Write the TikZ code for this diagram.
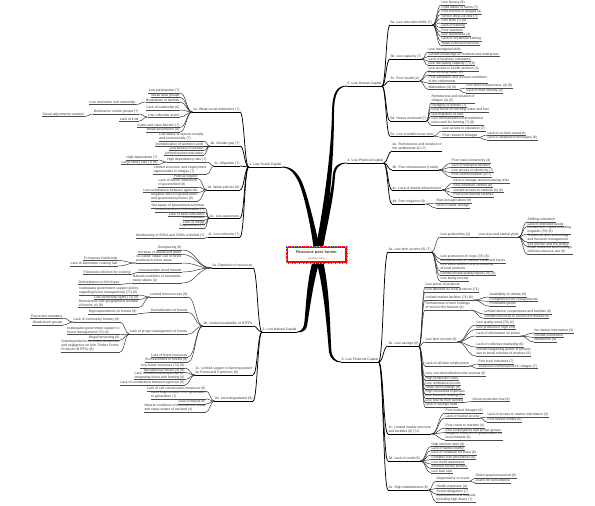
\documentclass[tikz,border=0pt]{standalone}
\usepackage{fontspec}
\setmainfont{Liberation Sans}
\usetikzlibrary{calc}
\tikzset{
 txt/.style={font=\fontsize{3.4}{3.8}\selectfont, text=black!80, inner xsep=0.4pt, inner ysep=0.5pt, align=left},
 lf/.style={draw=black!70, line width=0.45pt},
 l2/.style={draw=black, line width=0.6pt},
 l1/.style={draw=black, line width=0.8pt},
 k3/.style={draw=black!85, line width=0.45pt},
 k2/.style={draw=black, line width=0.6pt},
 k1/.style={draw=black, line width=0.75pt},
 branch/.style={fill=black},
}
\newcommand\mmR[5][lf]{\node[txt,anchor=south west] (#2) at (#3,#4) {#5}; \draw[#1] (#2.south west) -- (#2.south east);}
\newcommand\mmL[5][lf]{\node[txt,anchor=south east] (#2) at (#3,#4) {#5}; \draw[#1] (#2.south west) -- (#2.south east);}
\newcommand\cR[3][k3]{\draw[#1] let \p1=(#2.south east), \p2=(#3.south west) in (\p1) .. controls ({0.5*\x1+0.5*\x2},\y1) and ({0.5*\x1+0.5*\x2},\y2) .. (\p2);}
\newcommand\cL[3][k3]{\draw[#1] let \p1=(#2.south west), \p2=(#3.south east) in (\p1) .. controls ({0.5*\x1+0.5*\x2},\y1) and ({0.5*\x1+0.5*\x2},\y2) .. (\p2);}
\begin{document}
\begin{tikzpicture}[x=1pt,y=-1pt]
\useasboundingbox (0,0) rectangle (595,506);
% ---------------- main tapered branches
\fill[branch] (314.5,255) .. controls (322,215) and (331,160) .. (332,112) .. controls (332.3,92) and (337,85.6) .. (347,85.6) -- (347,86.4) .. controls (338.5,86.6) and (334.3,93) .. (334,112) .. controls (334,160) and (329,215) .. (321.5,255) -- cycle;
\fill[branch] (314.5,255) .. controls (323,220) and (331.5,195) .. (332.5,178) .. controls (333,167) and (337,162.6) .. (347,162.6) -- (347,163.4) .. controls (339,163.5) and (335.2,168) .. (334.8,178) .. controls (334,195) and (328,222) .. (321.5,255) -- cycle;
\fill[branch] (321.5,255) .. controls (314,222) and (307,193) .. (301.5,181) .. controls (296,170) and (290,166.6) .. (282,166.6) -- (282,167.4) .. controls (289,167.6) and (294,172) .. (299,183) .. controls (304,195) and (311,225) .. (314.5,255) -- cycle;
\fill[branch] (321.5,255) .. controls (313,280) and (309,315) .. (307,326) .. controls (306,331) and (302,332.4) .. (297,332.4) -- (297,331.6) .. controls (300.5,331.5) and (303,329) .. (304,325) .. controls (306,312) and (306,280) .. (314.5,255) -- cycle;
\fill[branch] (314.5,255) .. controls (324,285) and (327,330) .. (329,352) .. controls (330,359) and (335,362.4) .. (341,362.4) -- (341,361.6) .. controls (336,361.4) and (332,358) .. (331.3,350) .. controls (330,330) and (330,285) .. (321.5,255) -- cycle;
% ---------------- centre
\node[draw=red, line width=2pt, fill=white, minimum width=59pt, minimum height=15pt, inner sep=0] (c) at (316.5,254.5) {};
\draw[yellow!90!orange, line width=0.9pt, dash pattern=on 0.9pt off 2.7pt] (c.south west) rectangle (c.north east);
\draw[blue!70, line width=0.9pt, dash pattern=on 0.9pt off 2.7pt, dash phase=1.8pt] (c.south west) rectangle (c.north east);
\node[font=\fontsize{3.9}{4.3}\selectfont\bfseries, text=black!75, inner sep=0] (ct) at (316.5,252.5) {Resource poor farmer};
\node[font=\fontsize{2.6}{3}\selectfont, text=black!60, inner sep=0] (cs) at (316.5,258.5) {(problem tree)};
% ================= 5. Human capital
\mmR[l1]{n5}{347}{86}{5. Low Human Capital}
\mmR[l2]{n5a}{390}{25}{5a. Low education/skills (7)}
\mmR{n5a1}{441}{5}{Low literacy (8)}
\mmR{n5a2}{441}{9.5}{Child labour in farms (7)}
\mmR{n5a3}{441}{14}{Few schools in villages (4)}
\mmR{n5a4}{441}{18.5}{School drop-out rate (7)}
\mmR{n5a5}{441}{23}{Low skills (7) (8)}
\mmR{n5a6}{441}{27.5}{Lack of training}
\mmR{n5a7}{441}{32}{Poor teachers}
\mmR{n5a8}{441}{36.5}{Low awareness (4)}
\mmR{n5a9}{441}{41}{Lack of vocational training}
\mmR{n5a10}{441}{45.5}{Weak extension services}
\mmR[l2]{n5b}{390}{59}{5b. Low capacity (7)}
\mmR{n5b1}{428}{52}{Low managerial skills}
\mmR{n5b2}{428}{56.5}{Limited knowledge on markets and enterprises}
\mmR{n5b3}{428}{61}{Lack of business orientation}
\mmR{n5b4}{428}{65.5}{Low risk-taking capacity (7) (8)}
\mmR[l2]{n5c}{390}{81}{5c. Poor health (4)}
\mmR{n5c1}{428}{71}{Low access to health services (4)}
\mmR{n5c2}{428}{75}{Poor drinking water (4)}
\mmR{n5c3}{428}{83}{Poor sanitation and unclean conditions\\ of the settlements}
\mmR{n5c4}{428}{89.5}{Malnutrition (4) (6)}
\mmR{n5c4a}{466}{88}{Low level of awareness (4) (8)}
\mmR{n5c4b}{466}{93}{Lack of food security (6)}
\mmR[l2]{n5d}{390}{121}{5d. Heavy workload (7)}
\mmR{n5d1}{431}{103}{Remoteness and isolation of\\ villages (4) (2)}
\mmR{n5d2}{431}{107.5}{Drudgery of women (7)}
\mmR{n5d3}{431}{112}{Long hours for fetching water and fuel}
\mmR{n5d4}{431}{116.5}{Out-migration of men}
\mmR{n5d5}{431}{125}{Low mechanisation and traditional\\ tools used for farming (7) (8)}
\mmR[l2]{n5e}{390}{136}{5e. Low scientific know-how}
\mmR{n5e1}{442}{131}{Low access to education (7)}
\mmR{n5e2}{442}{137.5}{Poor research linkages}
\mmR{n5e2a}{487}{135}{Lack of on-farm research}
\mmR{n5e2b}{487}{140}{Lack of adapted technologies (8)}
\foreach \k in {n5a,n5b,n5c,n5d,n5e} {\cR[k1]{n5}{\k}}
\foreach \k in {1,...,10} {\cR{n5a}{n5a\k}}
\foreach \k in {1,...,4} {\cR{n5b}{n5b\k}}
\foreach \k in {1,...,4} {\cR{n5c}{n5c\k}}
\foreach \k in {a,b} {\cR{n5c4}{n5c4\k}}
\foreach \k in {1,...,5} {\cR{n5d}{n5d\k}}
\foreach \k in {1,2} {\cR{n5e}{n5e\k}}
\foreach \k in {a,b} {\cR{n5e2}{n5e2\k}}
% ================= 4. Physical capital
\mmR[l1]{n4}{347}{163}{4. Low Physical Capital}
\mmR[l2]{n4a}{392}{151}{4a. Remoteness and isolation of\\ the settlements (4) (7)}
\mmR[l2]{n4b}{392}{170}{4b. Poor infrastructure (roads)}
\mmR{n4b1}{451}{163}{Poor road connectivity (4)}
\mmR{n4b2}{451}{167.5}{Lack of transport facilities}
\mmR{n4b3}{451}{172.5}{Low access to electricity (7)}
\mmR{n4b4}{451}{177}{Poor communication (ICT)}
\mmR[l2]{n4c}{392}{190}{4c. Lack of market infrastructure}
\mmR{n4c1}{453}{183}{Lack of storage and processing units}
\mmR{n4c2}{453}{187.5}{Few collection centres (6)}
\mmR{n4c3}{453}{192.5}{Limited access to markets (4) (6)}
\mmR{n4c4}{453}{197}{Poor post-harvest facilities}
\mmR[l2]{n4d}{392}{204}{4d. Poor irrigation (8)}
\mmR{n4d1}{436}{203}{Rain-fed agriculture (8)}
\mmR{n4d2}{436}{208}{Lack of water storage}
\foreach \k in {n4a,n4b,n4c,n4d} {\cR[k1]{n4}{\k}}
\foreach \k in {1,...,4} {\cR{n4b}{n4b\k}}
\foreach \k in {1,...,4} {\cR{n4c}{n4c\k}}
\foreach \k in {1,2} {\cR{n4d}{n4d\k}}
% ================= 3. Financial capital
\mmR[l1]{n3}{341}{362}{3. Low Financial Capital}
\mmR[l2]{n3a}{388}{252}{3a. Low farm income (6) (7)}
\mmR{n3a1}{440}{237}{Low productivity (4)}
\mmR{n3a1a}{478}{237}{Low crop and animal yield}
\mmR{n3a1a1}{527}{222}{Shifting cultivation}
\mmR{n3a1a2}{527}{226.5}{Lack of improved seeds}
\mmR{n3a1a3}{527}{234}{Limited farm inputs including\\ irrigation (70) (8)}
\mmR{n3a1a4}{527}{242}{Traditional farm technology\\ and livestock management}
\mmR{n3a1a5}{527}{246.5}{Soil erosion and low fertility}
\mmR{n3a1a6}{527}{254}{Small scattered land holdings\\ with low resource use (8)}
\mmR{n3a2}{440}{259}{Low production of crops (74) (6)}
\mmR{n3a3}{440}{263}{Limited access to market, credit and inputs}
\mmR{n3a4}{440}{271}{Low value addition and processing\\ of local products}
\mmR{n3a5}{440}{275.5}{Limited private quality inputs (70) (8)}
\mmR{n3a6}{440}{281}{Low family income}
\mmR[l2]{n3b}{388}{346}{3b. Low savings (6)}
\mmR{n3b1}{425}{287}{Low prices of products}
\mmR{n3b2}{425}{292}{Low demand for local products (71)}
\mmR{n3b3}{425}{300}{Limited market facilities (71) (6)}
\mmR{n3b3a}{489}{297}{Availability of climate (6)}
\mmR{n3b3b}{489}{301.5}{Competition from cheap imports}
\mmR{n3b3c}{489}{306}{Perishable goods}
\mmR{n3b4}{425}{310}{Remoteness of farm holdings\\ of most of the farmers (4)}
\mmR{n3b4a}{484}{314}{Limited farmer cooperatives and facilities (6)}
\mmR{n3b4b}{484}{318.5}{Limited resources to access the market (6)}
\mmR{n3b5}{425}{342}{Low farm income (6)}
\mmR{n3b5a}{476}{325}{Low quality seed (70) (4)}
\mmR{n3b5b}{476}{329.5}{Low production, high cost}
\mmR{n3b5c}{476}{336}{Lack of information on prices}
\mmR{n3b5c1}{534}{333}{No market information (3)}
\mmR{n3b5c2}{534}{337.5}{Limited connection}
\mmR{n3b5c3}{534}{342}{Middlemen (9)}
\mmR{n3b5d}{476}{347}{Lack of collective marketing (6)}
\mmR{n3b5e}{476}{356}{Limited bargaining power of farmers\\ due to small volumes of produce (6)}
\mmR{n3b6}{425}{366}{Lack of off-farm employment}
\mmR{n3b6a}{478}{364}{Few local industries (7)}
\mmR{n3b6b}{478}{368.5}{Seasonal unemployment in villages (7)}
\mmR{n3b7}{425}{376}{Low, non-diversified income sources (6)}
\mmR{n3b8}{425}{380.5}{High production costs}
\mmR{n3b9}{425}{385}{Low remittance income}
\mmR{n3b10}{425}{389.5}{Small land holdings (8)}
\mmR{n3b11}{425}{394}{High household expenses}
\mmR{n3b12}{425}{398}{Low livestock holding (7)}
\mmR{n3b13}{425}{402.5}{Low returns from farming}
\mmR{n3b13a}{472}{401.5}{Gross production low (6)}
\mmR{n3b14}{425}{407}{Lack of savings habit}
\mmR[l2]{n3c}{388}{434}{3c. Limited market structure\\ and facilities (6) (71)}
\mmR{n3c1}{445}{413}{Poor market linkages (6)}
\mmR{n3c2}{445}{418}{Lack of market access}
\mmR{n3c2a}{487}{417}{Lack of access to market information (3)}
\mmR{n3c2b}{487}{422}{Few market outlets (6)}
\mmR{n3c3}{445}{428}{Poor roads to markets (4)}
\mmR{n3c4}{445}{432.5}{Few cooperatives and farmer groups}
\mmR{n3c5}{445}{440}{Negative influence of globalization on\\ local markets (6)}
\mmR[l2]{n3d}{388}{461}{3d. Lack of credit (6)}
\mmR{n3d1}{431}{446.5}{High interest rates (6)}
\mmR{n3d2}{431}{450.5}{Lack of banks nearby}
\mmR{n3d3}{431}{455}{Lack of collateral for loans (6)}
\mmR{n3d4}{431}{459.5}{Complex loan procedures (6)}
\mmR{n3d5}{431}{464}{Low credit awareness}
\mmR{n3d6}{431}{468.5}{Informal money lenders}
\mmR{n3d7}{431}{473}{Low loan size}
\mmR[l2]{n3e}{388}{490}{3e. High indebtedness (6)}
\mmR{n3e1}{436}{481}{Dependency on loans}
\mmR{n3e1a}{475}{478}{Short repayment period (6)}
\mmR{n3e1b}{475}{483}{Loans for consumption}
\mmR{n3e2}{436}{488.5}{Health expenses (4)}
\mmR{n3e3}{436}{494}{Social obligations (7)}
\mmR{n3e4}{436}{502}{Celebrations and festivals\\ including high dowry (7)}
\foreach \k in {n3a,n3b,n3c,n3d,n3e} {\cR[k1]{n3}{\k}}
\foreach \k in {1,...,6} {\cR{n3a}{n3a\k}}
\cR{n3a1}{n3a1a}
\foreach \k in {1,...,6} {\cR{n3a1a}{n3a1a\k}}
\foreach \k in {1,...,14} {\cR{n3b}{n3b\k}}
\foreach \k in {a,b,c} {\cR{n3b3}{n3b3\k}}
\foreach \k in {a,b} {\cR{n3b4}{n3b4\k}}
\foreach \k in {a,b,c,d,e} {\cR{n3b5}{n3b5\k}}
\foreach \k in {1,2,3} {\cR{n3b5c}{n3b5c\k}}
\foreach \k in {a,b} {\cR{n3b6}{n3b6\k}}
\cR{n3b13}{n3b13a}
\foreach \k in {1,...,5} {\cR{n3c}{n3c\k}}
\foreach \k in {a,b} {\cR{n3c2}{n3c2\k}}
\foreach \k in {1,...,7} {\cR{n3d}{n3d\k}}
\foreach \k in {1,...,4} {\cR{n3e}{n3e\k}}
\foreach \k in {a,b} {\cR{n3e1}{n3e1\k}}
% ================= 1. Social capital
\mmL[l1]{n1}{282}{167}{1. Low Social Capital}
\mmL[l2]{n1a}{240}{112}{1a. Weak social institutions (7)}
\mmL{n1a1}{180}{93}{Low participation (7)}
\mmL{n1a2}{180}{97.5}{Weak local groups}
\mmL{n1a3}{180}{102}{Breakdown of families}
\mmL{n1a3a}{136}{104.5}{Low motivation and ownership}
\mmL{n1a4}{180}{110}{Lack of leadership (8)}
\mmL{n1a5}{180}{117}{Low collective action}
\mmL{n1a5a}{139}{114}{Dominance of elite groups (7)}
\mmL{n1a5a1}{84}{116.5}{Social adjustments needed}
\mmL{n1a5b}{139}{121}{Lack of trust}
\mmL{n1a6}{180}{127.5}{Caste and class barriers (7)}
\mmL{n1a7}{180}{132}{Weak governance (8)}
\mmL[l2]{n1b}{240}{146}{1b. Gender gap (7)}
\mmL{n1b1}{204}{141}{Low status of women socially\\ and economically (7)}
\mmL{n1b2}{204}{146}{Domestication of women's work}
\mmL{n1b3}{204}{150.5}{Low literacy of women}
\mmL{n1b4}{204}{155}{Limited women education}
\mmL[l2]{n1c}{240}{166}{1c. Migration (7)}
\mmL{n1c1}{207}{162}{High dependency ratio (7)}
\mmL{n1c1a}{158}{160}{High dependents (7)}
\mmL{n1c1b}{158}{164.5}{Large family size (7) (8)}
\mmL{n1c2}{207}{174}{Limited economic and employment\\ opportunities in villages (7)}
\mmL[l2]{n1d}{240}{190}{1d. Weak policies (8)}
\mmL{n1d1}{198}{178.5}{Political neglect}
\mmL{n1d2}{198}{187}{Lack of farmer institutions\\ of government (8)}
\mmL{n1d3}{198}{192.5}{Low coordination between agencies}
\mmL{n1d4}{198}{201}{Negative effect of globalization\\ and government policies (6)}
\mmL[l2]{n1e}{240}{218}{1e. Low awareness}
\mmL{n1e1}{205}{208}{Not aware of government schemes}
\mmL{n1e2}{205}{212}{Limited access to information (7)}
\mmL{n1e3}{205}{216}{Lack of basic education}
\mmL{n1e4}{205}{220}{Low exposure}
\mmL{n1e5}{205}{224}{Lack of media}
\mmL{n1e6}{205}{228}{Superstitions (7)}
\mmL[l2]{n1f}{240}{237}{1f. Low cohesion (7)}
\mmL{n1f1}{205}{238}{Membership in SHGs and CBOs is limited (7)}
\foreach \k in {n1a,n1b,n1c,n1d,n1e,n1f} {\cL[k1]{n1}{\k}}
\foreach \k in {1,...,7} {\cL{n1a}{n1a\k}}
\cL{n1a3}{n1a3a}
\foreach \k in {a,b} {\cL{n1a5}{n1a5\k}}
\cL{n1a5a}{n1a5a1}
\foreach \k in {1,...,4} {\cL{n1b}{n1b\k}}
\foreach \k in {1,2} {\cL{n1c}{n1c\k}}
\foreach \k in {a,b} {\cL{n1c1}{n1c1\k}}
\foreach \k in {1,...,4} {\cL{n1d}{n1d\k}}
\foreach \k in {1,...,6} {\cL{n1e}{n1e\k}}
\cL{n1f}{n1f1}
% ================= 2. Natural capital
\mmL[l1]{n2}{297}{332}{2. Low Natural Capital}
\mmL[l2]{n2a}{253}{268}{2a. Depletion of resources}
\mmL{n2a1}{182}{250}{Overgrazing (8)}
\mmL{n2a2}{182}{254.5}{Increase of weeds and pests}
\mmL{n2a3}{182}{263}{So-called `illegal' use of forest\\ products in some areas}
\mmL{n2a3a}{118}{260.5}{To improve livelihoods}
\mmL{n2a3b}{118}{266}{Lack of alternative cooking fuel}
\mmL{n2a4}{182}{272}{Unsustainable wood harvest}
\mmL{n2a4a}{131}{274.5}{Firewood collection for cooking}
\mmL{n2a5}{182}{283}{Natural conditions of mountains,\\ steep slopes (4)}
\mmL{n2a5a}{120}{284.5}{Deforestation on hill slopes}
\mmL[l2]{n2b}{253}{326}{2b. Limited availability of NTFPs}
\mmL{n2b1}{188}{297}{Limited forest access (8)}
\mmL{n2b1a}{139}{295}{Inadequate government support (policy\\ regarding forest management) (71) (8)}
\mmL{n2b1b}{139}{299.5}{Low ownership rights (72) (8)}
\mmL{n2b1c}{139}{307.5}{Remoteness and geographical isolation\\ of forests (4) (8)}
\mmL{n2b2}{188}{312.5}{Overutilization of forests}
\mmL{n2b2a}{137}{314}{High dependence on forests (8)}
\mmL{n2b3}{188}{334}{Lack of proper management of forests}
\mmL{n2b3a}{120}{322}{Lack of community forestry (8)}
\mmL{n2b3a1}{63}{318}{Few active members}
\mmL{n2b3a2}{63}{325}{Weak forest groups}
\mmL{n2b3b}{120}{334.5}{Inadequate government support to\\ forest management (72) (8)}
\mmL{n2b3c}{120}{340}{Illegal harvesting (8)}
\mmL{n2b3d}{120}{352}{Overdependence on timber production\\ and negligence on Non-Timber Forest\\ Products (NTFPs) (8)}
\mmL{n2b4}{188}{357}{Loss of forest resources}
\mmL{n2b5}{188}{362}{Encroachment of forests (8)}
\mmL[l2]{n2c}{253}{375}{2c. Limited support to farming system\\ by Forest and Commons (8)}
\mmL{n2c1}{185}{368}{Low forest resources (72) (8)}
\mmL{n2c2}{185}{372.5}{Mountainous terrain (4) (8)}
\mmL{n2c3}{185}{379.5}{Lack of livelihood perspective in\\ integrating forest with farming (8)}
\mmL{n2c4}{185}{385}{Lack of coordination between agencies (8)}
\mmL[l2]{n2d}{253}{401}{2d. Land degradation (8)}
\mmL{n2d1}{206}{391}{Lack of soil conservation measures (8)}
\mmL{n2d2}{206}{399}{Land fragmentation from generation\\ to generation (7)}
\mmL{n2d3}{206}{404}{Loss of topsoil (8)}
\mmL{n2d4}{206}{412}{Natural conditions of mountainous areas\\ and steep slopes of the land (4)}
\foreach \k in {n2a,n2b,n2c,n2d} {\cL[k1]{n2}{\k}}
\foreach \k in {1,...,5} {\cL{n2a}{n2a\k}}
\foreach \k in {a,b} {\cL{n2a3}{n2a3\k}}
\cL{n2a4}{n2a4a}
\cL{n2a5}{n2a5a}
\foreach \k in {1,...,5} {\cL{n2b}{n2b\k}}
\foreach \k in {a,b,c} {\cL{n2b1}{n2b1\k}}
\cL{n2b2}{n2b2a}
\foreach \k in {a,b,c,d} {\cL{n2b3}{n2b3\k}}
\foreach \k in {1,2} {\cL{n2b3a}{n2b3a\k}}
\foreach \k in {1,...,4} {\cL{n2c}{n2c\k}}
\foreach \k in {1,...,4} {\cL{n2d}{n2d\k}}
\end{tikzpicture}
\end{document}
